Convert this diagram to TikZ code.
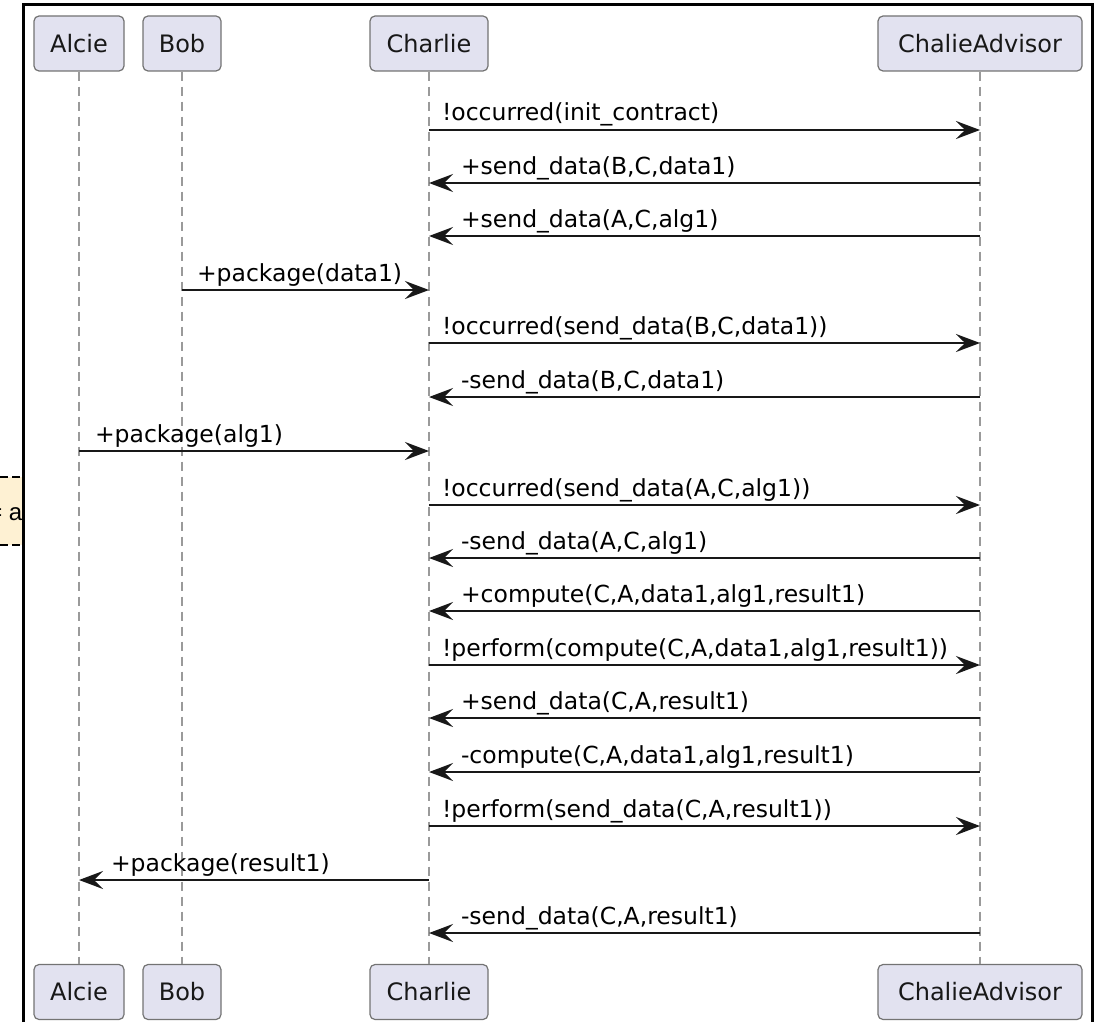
\documentclass[tikz,border=0pt]{standalone}
\usepackage{fontspec}
\setmainfont{DejaVu Sans}
\newfontfamily\notefont{Liberation Sans}
\usetikzlibrary{arrows.meta}

\definecolor{actorfill}{HTML}{E2E2F0}
\definecolor{notefill}{HTML}{FEF1D3}
\definecolor{lifegray}{HTML}{9A9A9A}
\definecolor{ink}{HTML}{181818}

\begin{document}
\begin{tikzpicture}[x=1pt,y=-1pt,>={Stealth[length=24pt,width=18pt,inset=9pt]},
  actor/.style={rectangle,rounded corners=5pt,fill=actorfill,draw=black!55,line width=1.2pt,
    minimum height=55pt,inner xsep=0pt,text=ink,font=\fontsize{24}{28}\selectfont},
  life/.style={draw=lifegray,line width=1.5pt,dash pattern=on 9pt off 6pt},
  msg/.style={->,draw=ink,line width=2pt},
  rlbl/.style={pos=0,anchor=base west,inner sep=0pt,xshift=12pt,yshift=9pt,
    font=\fontsize{23.5}{27}\selectfont},
  llbl/.style={pos=1,anchor=base west,inner sep=0pt,xshift=31pt,yshift=9pt,
    font=\fontsize{23.5}{27}\selectfont}]

  \useasboundingbox (0,0) rectangle (1099,1022);

  % participants
  \node[actor,minimum width=90pt]  (alcie)   at (79,43.5)  {Alcie};
  \node[actor,minimum width=78pt]  (bob)     at (182,43.5) {Bob};
  \node[actor,minimum width=118pt] (charlie) at (429,43.5) {Charlie};
  \node[actor,minimum width=204pt] (advisor) at (980,43.5) {ChalieAdvisor};

  \node[actor,minimum width=90pt]  (alcie')   at (79,992)  {Alcie};
  \node[actor,minimum width=78pt]  (bob')     at (182,992) {Bob};
  \node[actor,minimum width=118pt] (charlie') at (429,992) {Charlie};
  \node[actor,minimum width=204pt] (advisor') at (980,992) {ChalieAdvisor};

  \path[life]
    (alcie) edge (alcie')
    (bob) edge (bob')
    (charlie) edge (charlie')
    (advisor) edge (advisor');

  % points on the lifelines
  \foreach \y in {130,183,236,290,343,397,451,505,558,611,665,718,772,826,880,933} {
    \coordinate (A\y) at (alcie |- 0,\y);
    \coordinate (B\y) at (bob |- 0,\y);
    \coordinate (C\y) at (charlie |- 0,\y);
    \coordinate (D\y) at (advisor |- 0,\y);
  }

  % messages
  \draw[msg] (C130) -- (D130) node[rlbl] {!occurred(init\_contract)};
  \draw[msg] (D183) -- (C183) node[llbl] {+send\_data(B,C,data1)};
  \draw[msg] (D236) -- (C236) node[llbl] {+send\_data(A,C,alg1)};
  \draw[msg] (B290) -- (C290) node[rlbl,xshift=2pt] {+package(data1)};
  \draw[msg] (C343) -- (D343) node[rlbl] {!occurred(send\_data(B,C,data1))};
  \draw[msg] (D397) -- (C397) node[llbl] {-send\_data(B,C,data1)};
  \draw[msg] (A451) -- (C451) node[rlbl,xshift=3pt] {+package(alg1)};
  \draw[msg] (C505) -- (D505) node[rlbl] {!occurred(send\_data(A,C,alg1))};
  \draw[msg] (D558) -- (C558) node[llbl] {-send\_data(A,C,alg1)};
  \draw[msg] (D611) -- (C611) node[llbl] {+compute(C,A,data1,alg1,result1)};
  \draw[msg] (C665) -- (D665) node[rlbl] {!perform(compute(C,A,data1,alg1,result1))};
  \draw[msg] (D718) -- (C718) node[llbl] {+send\_data(C,A,result1)};
  \draw[msg] (D772) -- (C772) node[llbl] {-compute(C,A,data1,alg1,result1)};
  \draw[msg] (C826) -- (D826) node[rlbl] {!perform(send\_data(C,A,result1))};
  \draw[msg] (C880) -- (A880) node[llbl] {+package(result1)};
  \draw[msg] (D933) -- (C933) node[llbl] {-send\_data(C,A,result1)};

  % note cut off at the frame
  \begin{scope}
    \clip (0,0) rectangle (23,1022);
    \fill[notefill] (-60,477) rectangle (23,545);
    \draw[line width=1.5pt,dash pattern=on 8pt off 4pt] (-60,477) -- (23,477) (-60,545) -- (23,545);
    \node[anchor=base east,inner sep=0pt,font=\notefont\fontsize{24}{28}\selectfont] (note) at (22.5,520) {= a};
  \end{scope}

  % frame
  \draw[line width=3pt] (23,1022) -- (23,5) -- (1092,5) -- (1092,1022);
\end{tikzpicture}
\end{document}
